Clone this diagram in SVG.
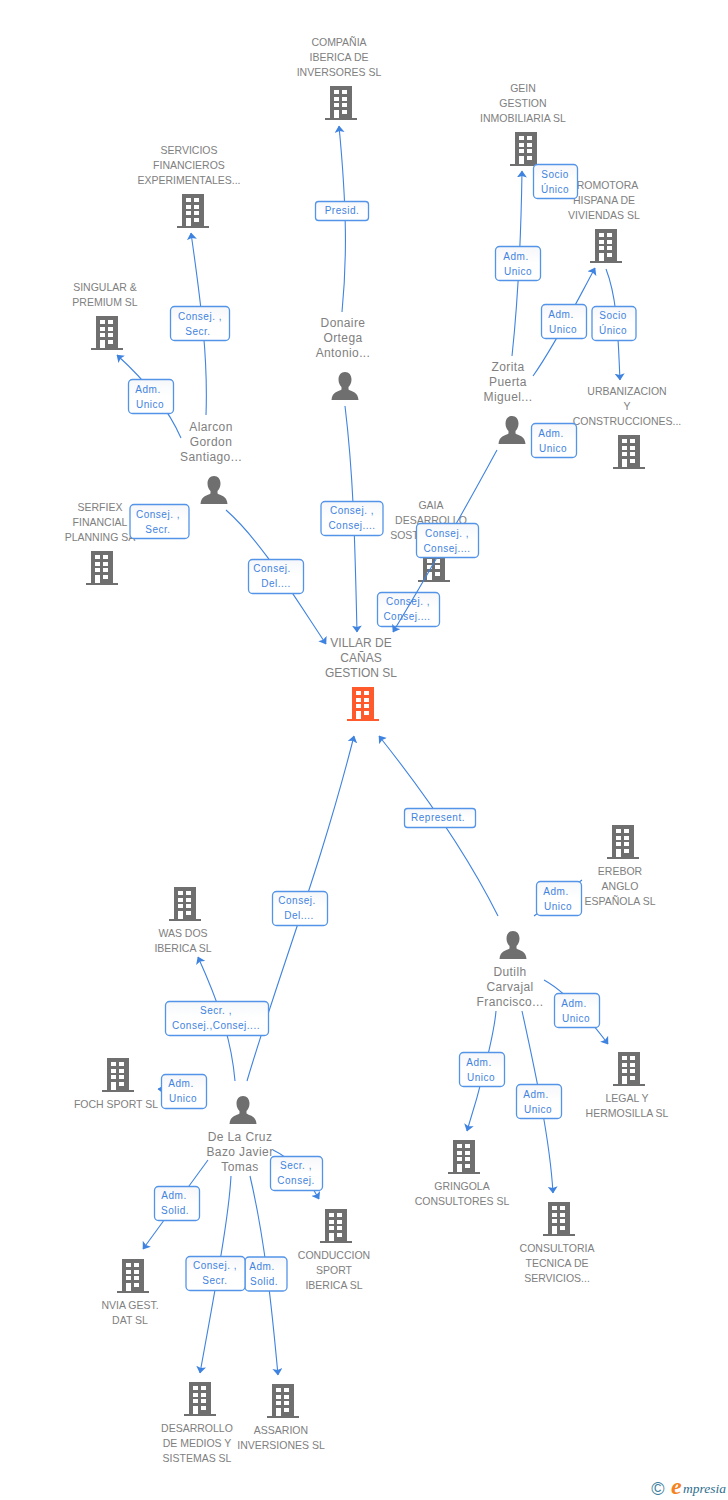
<svg xmlns="http://www.w3.org/2000/svg" width="728" height="1500" viewBox="0 0 728 1500">
<style>
.n{font:10.5px "Liberation Sans",Arial,sans-serif;fill:#808080;text-anchor:middle}
.p{font:12px "Liberation Sans",Arial,sans-serif;fill:#808080;text-anchor:middle;letter-spacing:.4px}
.l{font:10px "Liberation Sans",Arial,sans-serif;fill:#3f83e0;text-anchor:middle;letter-spacing:.5px}
.b{fill:url(#bg);stroke:#5394e8;stroke-width:1.3}
.e{fill:none;stroke:#3f83e0;stroke-width:1.1;marker-end:url(#a)}
.f{fill:none;stroke:#3f83e0;stroke-width:1.1}
</style>
<defs>
<linearGradient id="bg" x1="0" y1="0" x2="0" y2="1"><stop offset="0" stop-color="#f6f7fa"/><stop offset=".5" stop-color="#fff"/></linearGradient>
<marker id="a" viewBox="0 0 7 10" refX="6.500" refY="5" markerWidth="7" markerHeight="10" markerUnits="userSpaceOnUse" orient="auto" preserveAspectRatio="none"><path d="M0 0L7 5L0 10L1.500 5Z" fill="#3f83e0"/></marker>
<symbol id="bld" viewBox="0 0 32 34" width="32" height="34" overflow="visible">
<path fill-rule="evenodd" d="M5 0H27V32H32V34H0V32H5ZM9 4V8H14V4ZM17 4V8H22V4ZM9 11V15H14V11ZM17 11V15H22V11ZM9 17V21H14V17ZM17 17V21H22V17ZM9 24V32H14V24ZM17 24V28H22V24Z"/>
</symbol>
<symbol id="per" viewBox="0 0 28 28" width="28" height="28"><path fill="#6f6f6f" d="M14 0C18 0 20.500 3 20.500 7.500C20.500 11 19 13.500 17.500 15V17.500C20 19.500 27 19.500 27.500 28H.5C1 19.500 8 19.500 10.500 17.500V15C9 13.500 7.500 11 7.500 7.500C7.500 3 10 0 14 0Z"/></symbol>
</defs>
<rect width="728" height="1500" fill="#fff"/>
<g id="n-compania"><use href="#bld" x="325" y="86" fill="#6f6f6f"/><text class="n" x="339" y="46">COMPAÑIA</text><text class="n" x="339" y="61">IBERICA DE</text><text class="n" x="339" y="76">INVERSORES SL</text></g>
<g id="n-gein"><use href="#bld" x="510" y="132" fill="#6f6f6f"/><text class="n" x="523" y="92">GEIN</text><text class="n" x="523" y="107">GESTION</text><text class="n" x="523" y="122">INMOBILIARIA SL</text></g>
<g id="n-servicios"><use href="#bld" x="177" y="194" fill="#6f6f6f"/><text class="n" x="189" y="154">SERVICIOS</text><text class="n" x="189" y="169">FINANCIEROS</text><text class="n" x="189" y="184">EXPERIMENTALES...</text></g>
<g id="n-promotora"><use href="#bld" x="590" y="229" fill="#6f6f6f"/><text class="n" x="604" y="189">PROMOTORA</text><text class="n" x="604" y="204">HISPANA DE</text><text class="n" x="604" y="219">VIVIENDAS SL</text></g>
<g id="n-singular"><use href="#bld" x="91" y="316" fill="#6f6f6f"/><text class="n" x="105" y="291">SINGULAR &amp;</text><text class="n" x="105" y="306">PREMIUM SL</text></g>
<g id="n-urbanizacion"><use href="#bld" x="613" y="435" fill="#6f6f6f"/><text class="n" x="627" y="395">URBANIZACION</text><text class="n" x="627" y="410">Y</text><text class="n" x="627" y="425">CONSTRUCCIONES...</text></g>
<g id="n-serfiex"><use href="#bld" x="86" y="551" fill="#6f6f6f"/><text class="n" x="100" y="511">SERFIEX</text><text class="n" x="100" y="526">FINANCIAL</text><text class="n" x="100" y="541">PLANNING SA</text></g>
<g id="n-gaia"><use href="#bld" x="418" y="548" fill="#6f6f6f"/><text class="n" x="431" y="509">GAIA</text><text class="n" x="431" y="524">DESARROLLO</text><text class="n" x="431" y="539">SOSTENIBLE SL</text></g>
<g id="n-villar"><use href="#bld" x="347" y="687" fill="#ff5a2b"/><text class="p" x="361" y="647" style="letter-spacing:0">VILLAR DE</text><text class="p" x="361" y="662" style="letter-spacing:0">CAÑAS</text><text class="p" x="361" y="677" style="letter-spacing:0">GESTION SL</text></g>
<g id="n-erebor"><use href="#bld" x="607" y="825" fill="#6f6f6f"/><text class="n" x="620" y="875">EREBOR</text><text class="n" x="620" y="890">ANGLO</text><text class="n" x="620" y="905">ESPAÑOLA  SL</text></g>
<g id="n-was"><use href="#bld" x="169" y="887" fill="#6f6f6f"/><text class="n" x="183" y="937">WAS DOS</text><text class="n" x="183" y="952">IBERICA SL</text></g>
<g id="n-foch"><use href="#bld" x="102" y="1058" fill="#6f6f6f"/><text class="n" x="116" y="1108">FOCH SPORT SL</text></g>
<g id="n-legal"><use href="#bld" x="613" y="1052" fill="#6f6f6f"/><text class="n" x="627" y="1102">LEGAL Y</text><text class="n" x="627" y="1117">HERMOSILLA SL</text></g>
<g id="n-gringola"><use href="#bld" x="448" y="1140" fill="#6f6f6f"/><text class="n" x="462" y="1190">GRINGOLA</text><text class="n" x="462" y="1205">CONSULTORES SL</text></g>
<g id="n-consultoria"><use href="#bld" x="543" y="1202" fill="#6f6f6f"/><text class="n" x="557" y="1252">CONSULTORIA</text><text class="n" x="557" y="1267">TECNICA DE</text><text class="n" x="557" y="1282">SERVICIOS...</text></g>
<g id="n-conduccion"><use href="#bld" x="320" y="1209" fill="#6f6f6f"/><text class="n" x="334" y="1259">CONDUCCION</text><text class="n" x="334" y="1274">SPORT</text><text class="n" x="334" y="1289">IBERICA SL</text></g>
<g id="n-nvia"><use href="#bld" x="117" y="1259" fill="#6f6f6f"/><text class="n" x="130" y="1309">NVIA GEST.</text><text class="n" x="130" y="1324">DAT SL</text></g>
<g id="n-desarrollo"><use href="#bld" x="184" y="1382" fill="#6f6f6f"/><text class="n" x="197" y="1432">DESARROLLO</text><text class="n" x="197" y="1447">DE MEDIOS Y</text><text class="n" x="197" y="1462">SISTEMAS SL</text></g>
<g id="n-assarion"><use href="#bld" x="267" y="1384" fill="#6f6f6f"/><text class="n" x="281" y="1434">ASSARION</text><text class="n" x="281" y="1449">INVERSIONES SL</text></g>
<g id="n-donaire"><use href="#per" x="331" y="372"/><text class="p" x="343" y="327">Donaire</text><text class="p" x="343" y="342">Ortega</text><text class="p" x="343" y="357">Antonio...</text></g>
<g id="n-zorita"><use href="#per" x="498" y="416"/><text class="p" x="508" y="371">Zorita</text><text class="p" x="508" y="386">Puerta</text><text class="p" x="508" y="401">Miguel...</text></g>
<g id="n-alarcon"><use href="#per" x="200" y="476"/><text class="p" x="211" y="431">Alarcon</text><text class="p" x="211" y="446">Gordon</text><text class="p" x="211" y="461">Santiago...</text></g>
<g id="n-dutilh"><use href="#per" x="499" y="931"/><text class="p" x="510" y="976">Dutilh</text><text class="p" x="510" y="991">Carvajal</text><text class="p" x="510" y="1006">Francisco...</text></g>
<g id="n-delacruz"><use href="#per" x="229" y="1096"/><text class="p" x="240" y="1141">De La Cruz</text><text class="p" x="240" y="1156">Bazo Javier</text><text class="p" x="240" y="1171">Tomas</text></g>
<g id="lab-under"><rect class="b" x="377.500" y="592.500" width="62" height="34" rx="4"/><text class="l" x="408" y="605">Consej. ,</text><text class="l" x="407" y="620">Consej....</text></g>
<g id="connectors">
<path class="e" d="M342 312C347 260 347 210 339 126"/>
<path class="e" d="M345 406C354 480 355 550 357 632"/>
<path class="e" d="M206 415C208 360 202 310 191 233"/>
<path class="e" d="M181 438C170 413 150 385 117 355"/>
<path class="e" d="M226 510C260 540 290 590 326 644"/>
<path class="e" d="M497 450C475 490 440 555 393 632"/>
<path class="e" d="M512 356C518 300 521 240 522 171"/>
<path class="e" d="M533 376C555 345 575 305 595 268"/>
<path class="e" d="M606 269C618 300 618 340 620 380"/>
<path class="e" d="M498 916C470 860 430 800 379 736"/>
<path class="e" d="M247 1081C280 970 320 870 354 736"/>
<path class="e" d="M235 1081C232 1045 222 1010 198 957"/>
<path class="e" d="M207 1093C190 1092 175 1090 158 1089"/>
<path class="e" d="M273 1150C295 1160 308 1180 319 1199"/>
<path class="e" d="M208 1160L143 1249"/>
<path class="e" d="M231 1176C229 1215 217 1280 200 1373"/>
<path class="e" d="M250 1176C265 1240 272 1310 278 1375"/>
<path class="e" d="M544 980C566 992 590 1020 608 1044"/>
<path class="e" d="M496 1011C494 1035 480 1090 467 1131"/>
<path class="e" d="M522 1011C535 1070 550 1140 553 1193"/>
<path class="f" d="M534 916L582 880"/>
</g>
<g id="labels">
<g><rect class="b" x="315.500" y="201.500" width="53" height="19" rx="3"/><text class="l" x="342" y="214">Presid.</text></g>
<g><rect class="b" x="170.500" y="306.500" width="59" height="34" rx="4"/><text class="l" x="200" y="320">Consej. ,</text><text class="l" x="198" y="335">Secr.</text></g>
<g><rect class="b" x="128.500" y="379.500" width="45" height="34" rx="4"/><text class="l" x="148" y="393">Adm.</text><text class="l" x="150" y="408">Unico</text></g>
<g><rect class="b" x="130" y="504.500" width="59" height="34" rx="4"/><text class="l" x="158" y="518">Consej. ,</text><text class="l" x="158" y="533">Secr.</text></g>
<g><rect class="b" x="248.500" y="559.500" width="55" height="34" rx="4"/><text class="l" x="272" y="572">Consej.</text><text class="l" x="276" y="587">Del....</text></g>
<g><rect class="b" x="321" y="501.500" width="62" height="34" rx="4"/><text class="l" x="352" y="514">Consej. ,</text><text class="l" x="352" y="529">Consej....</text></g>
<g><rect class="b" x="416.500" y="523.500" width="62" height="34" rx="4"/><text class="l" x="447" y="537">Consej. ,</text><text class="l" x="447" y="552">Consej....</text></g>
<g><rect class="b" x="533.500" y="164.500" width="44" height="34" rx="4"/><text class="l" x="555" y="178">Socio</text><text class="l" x="555" y="193">Único</text></g>
<g><rect class="b" x="495.500" y="246.500" width="45" height="34" rx="4"/><text class="l" x="516" y="260">Adm.</text><text class="l" x="518" y="275">Unico</text></g>
<g><rect class="b" x="541.500" y="304.500" width="45" height="34" rx="4"/><text class="l" x="561" y="318">Adm.</text><text class="l" x="563" y="333">Unico</text></g>
<g><rect class="b" x="592" y="306.500" width="44" height="34" rx="4"/><text class="l" x="613" y="319">Socio</text><text class="l" x="613" y="334">Único</text></g>
<g><rect class="b" x="531.500" y="423.500" width="45" height="34" rx="4"/><text class="l" x="551" y="437">Adm.</text><text class="l" x="553" y="452">Unico</text></g>
<g><rect class="b" x="404.500" y="808.500" width="71" height="19" rx="3"/><text class="l" x="438" y="821">Represent.</text></g>
<g><rect class="b" x="536.500" y="881.500" width="45" height="34" rx="4"/><text class="l" x="556" y="895">Adm.</text><text class="l" x="558" y="910">Unico</text></g>
<g><rect class="b" x="554.500" y="993.500" width="45" height="34" rx="4"/><text class="l" x="574" y="1007">Adm.</text><text class="l" x="576" y="1022">Unico</text></g>
<g><rect class="b" x="459.500" y="1052.500" width="45" height="34" rx="4"/><text class="l" x="479" y="1066">Adm.</text><text class="l" x="481" y="1081">Unico</text></g>
<g><rect class="b" x="516.500" y="1084.500" width="45" height="34" rx="4"/><text class="l" x="536" y="1098">Adm.</text><text class="l" x="538" y="1113">Unico</text></g>
<g><rect class="b" x="272.500" y="891.500" width="55" height="34" rx="4"/><text class="l" x="297" y="904">Consej.</text><text class="l" x="299" y="919">Del....</text></g>
<g><rect class="b" x="165.500" y="1001.500" width="103" height="34" rx="4"/><text class="l" x="216" y="1014">Secr. ,</text><text class="l" x="216" y="1029">Consej.,Consej....</text></g>
<g><rect class="b" x="161.500" y="1074.500" width="45" height="34" rx="4"/><text class="l" x="181" y="1087">Adm.</text><text class="l" x="183" y="1102">Unico</text></g>
<g><rect class="b" x="270.500" y="1156.500" width="52" height="34" rx="4"/><text class="l" x="296" y="1169">Secr. ,</text><text class="l" x="296" y="1184">Consej.</text></g>
<g><rect class="b" x="154.500" y="1186.500" width="45" height="34" rx="4"/><text class="l" x="174" y="1199">Adm.</text><text class="l" x="175" y="1214">Solid.</text></g>
<g><rect class="b" x="245" y="1257" width="42" height="34" rx="4"/><text class="l" x="262" y="1270">Adm.</text><text class="l" x="264" y="1285">Solid.</text></g>
<g><rect class="b" x="186" y="1256.500" width="59" height="34" rx="4"/><text class="l" x="215" y="1269">Consej. ,</text><text class="l" x="215" y="1284">Secr.</text></g>
</g>
<g id="logo"><text x="658" y="1495" font-family="Liberation Sans,sans-serif" font-size="18" fill="#3d7f9e" text-anchor="middle">©</text><text x="671" y="1494" font-family="Liberation Serif,serif" font-style="italic" font-weight="bold" font-size="24" fill="#f58220">e</text><text x="683" y="1493" font-family="Liberation Serif,serif" font-style="italic" font-size="13.500" fill="#2d6e8e">mpresia</text></g>
</svg>
